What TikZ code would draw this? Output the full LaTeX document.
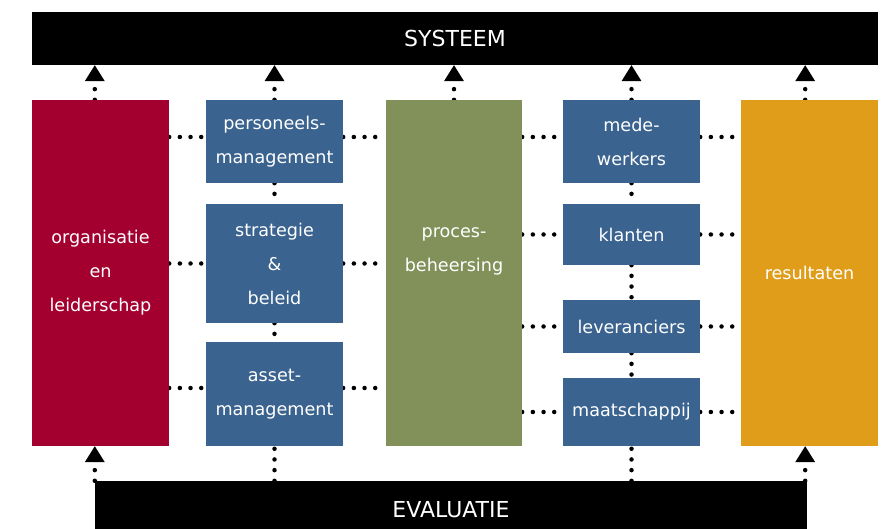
\documentclass[tikz,border=0pt]{standalone}
\usepackage{fontspec}
\setmainfont{DejaVu Sans}
\usetikzlibrary{arrows.meta,backgrounds}
\definecolor{wijnrood}{RGB}{163,0,48}
\definecolor{staalblauw}{RGB}{59,99,143}
\definecolor{olijf}{RGB}{130,145,90}
\definecolor{oker}{RGB}{224,157,26}
\tikzset{
  blok/.style={rectangle,inner sep=0pt,text=white,align=center,minimum width=137pt,font=\fontsize{17.6}{34}\selectfont},
  balk/.style={rectangle,fill=black,inner sep=0pt,text=white,font=\fontsize{22}{26}\selectfont},
  stip/.style={line width=4.5pt,line cap=round,dash pattern=on 0pt off 10.67pt},
  pijl/.style={stip,-{Triangle[width=20pt,length=16pt,line width=0pt]}}
}
\begin{document}
\begin{tikzpicture}[x=1pt,y=-1pt]
\useasboundingbox (0,0) rectangle (881,529);
%\draw[help lines,step=50pt] (0,0) grid (881,529);
\node[balk,minimum width=846pt,minimum height=53pt] (sys) at (455,38.5) {SYSTEEM};
\node[balk,minimum width=712pt,minimum height=58pt] (ev) at (451,510) {EVALUATIE};
\node[blok,fill=wijnrood,minimum height=346pt] (org) at (100.5,273) {organisatie\\en\\leiderschap};
\node[blok,fill=staalblauw,minimum height=83pt] (pm) at (274.5,141.5) {personeels-\\management};
\node[blok,fill=staalblauw,minimum height=119pt] (sb) at (274.5,263.5) {strategie\\\&\\beleid};
\node[blok,fill=staalblauw,minimum height=104pt] (am) at (274.5,394) {asset-\\management};
\node[blok,fill=olijf,minimum width=136pt,minimum height=346pt] (pb) at (454,273) {};
\node[blok] (pbt) at (454,251) {proces-\\beheersing};
\node[blok,fill=staalblauw,minimum height=83pt] (mw) at (631.5,141.5) {mede-\\werkers};
\node[blok,fill=staalblauw,minimum height=61pt] (kl) at (631.5,234.5) {klanten};
\node[blok,fill=staalblauw,minimum height=53pt] (lv) at (631.5,326.5) {leveranciers};
\node[blok,fill=staalblauw,minimum height=68pt] (ms) at (631.5,412) {maatschappij};
\node[blok,fill=oker,minimum height=346pt] (res) at (809.5,273) {resultaten};
\begin{pgfonlayer}{background}
% naar systeem
\draw[pijl] (ev.west |- org.north) -- (ev.west |- sys.south);
\draw[pijl] (pm.north) -- (pm.north |- sys.south);
\draw[pijl] (pb.north) -- (pb.north |- sys.south);
\draw[pijl] (mw.north) -- (mw.north |- sys.south);
\draw[pijl] ([xshift=-2pt]ev.east |- res.north) -- ([xshift=-2pt]ev.east |- sys.south);
% vanuit evaluatie
\draw[pijl] (ev.north west) -- (ev.west |- org.south);
\draw[pijl] ([xshift=-2pt]ev.north east) -- ([xshift=-2pt]ev.east |- res.south);
\draw[stip] (ev.north -| am.south) -- (am.south);
\draw[stip] (ev.north -| ms.south) -- (ms.south);
% verticaal
\draw[stip] (pm.south) -- (sb.north);
\draw[stip] (sb.south) -- (am.north);
\draw[stip] (mw.south) -- (kl.north);
\draw[stip] (kl.south) -- (lv.north);
\draw[stip] (lv.south) -- (ms.north);
% horizontaal
\draw[stip] ([yshift=4.5pt]org.east |- pm.west) -- ([yshift=4.5pt]pm.west);
\draw[stip] ([yshift=4.5pt]pm.east) -- ([yshift=4.5pt]pb.west |- pm.east);
\draw[stip] (org.east |- sb.west) -- (sb.west);
\draw[stip] (sb.east) -- (pb.west |- sb.east);
\draw[stip] ([yshift=6pt]org.east |- am.west) -- ([yshift=6pt]am.west);
\draw[stip] ([yshift=6pt]am.east) -- ([yshift=6pt]pb.west |- am.east);
\draw[stip] ([yshift=4.5pt]pb.east |- mw.west) -- ([yshift=4.5pt]mw.west);
\draw[stip] ([yshift=4.5pt]mw.east) -- ([yshift=4.5pt]res.west |- mw.east);
\draw[stip] (pb.east |- kl.west) -- (kl.west);
\draw[stip] (kl.east) -- (res.west |- kl.east);
\draw[stip] (pb.east |- lv.west) -- (lv.west);
\draw[stip] (lv.east) -- (res.west |- lv.east);
\draw[stip] (pb.east |- ms.west) -- (ms.west);
\draw[stip] (ms.east) -- (res.west |- ms.east);
\end{pgfonlayer}
\end{tikzpicture}
\end{document}
